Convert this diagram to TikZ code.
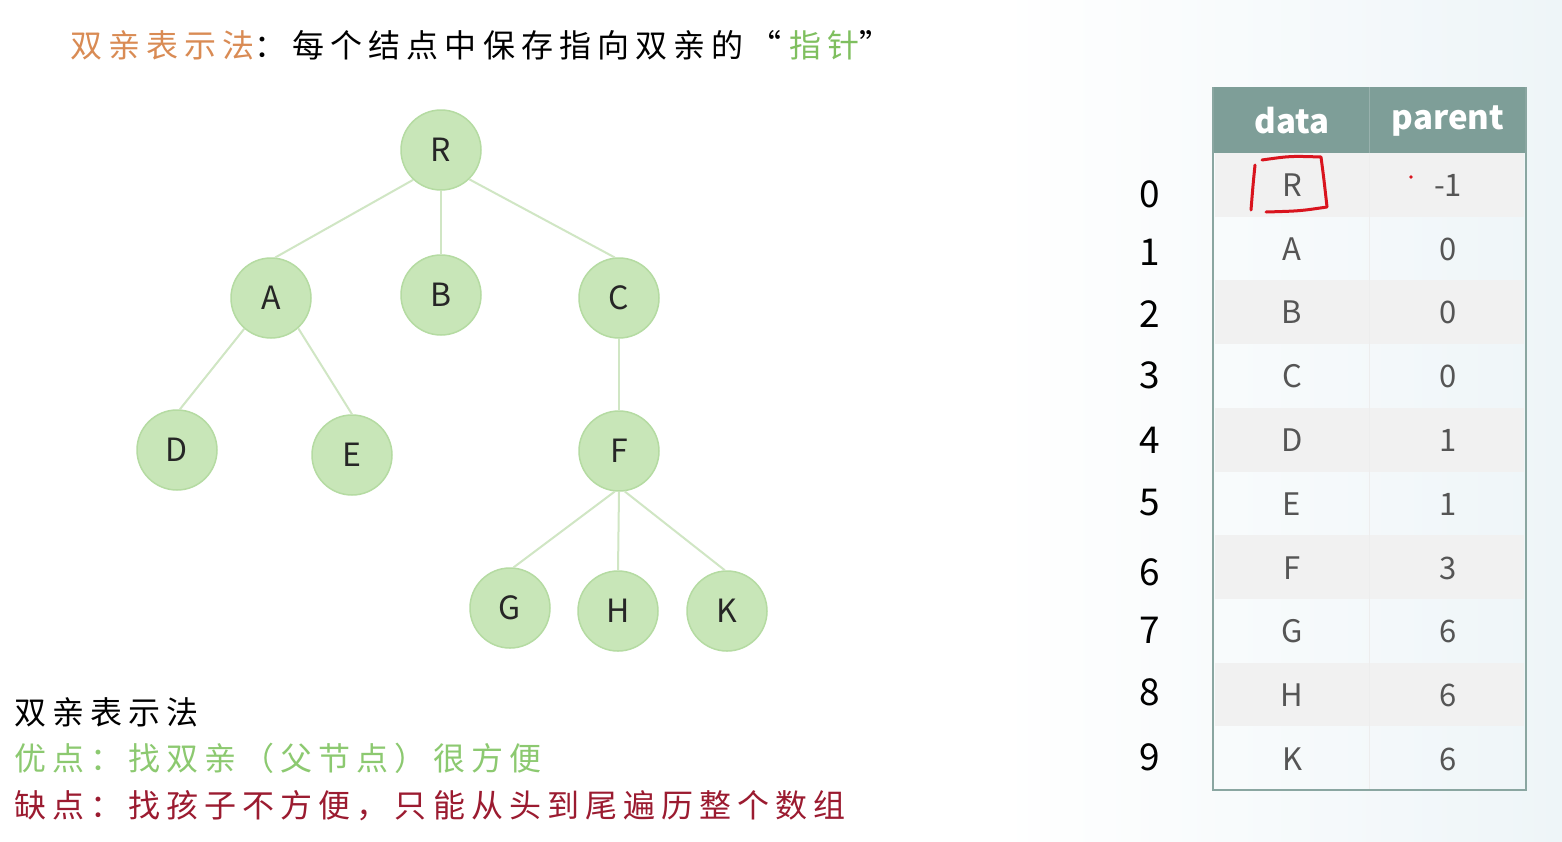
\documentclass[tikz,border=0pt]{standalone}
\usepackage{fontspec}
\setmainfont{Noto Sans CJK SC}
\newfontfamily\cjkfont[LetterSpace=19]{Noto Sans CJK SC}
\definecolor{ttlorange}{HTML}{D98B54}
\definecolor{ptrgreen}{HTML}{7FBF5F}
\definecolor{okgreen}{HTML}{8CC970}
\definecolor{badred}{HTML}{9B1B30}
\definecolor{nodefill}{HTML}{C8E6B8}
\definecolor{nodeline}{HTML}{B5DBA2}
\definecolor{edgecol}{HTML}{D0E6C4}
\definecolor{headcol}{HTML}{7E9E98}
\definecolor{tblline}{HTML}{8AA6A1}
\definecolor{rowgray}{HTML}{F1F1F1}
\definecolor{celltext}{HTML}{555555}
\definecolor{penred}{HTML}{D9141E}
\definecolor{bgblue}{HTML}{EEF5F8}
\tikzset{
  tn/.style={circle, minimum size=80pt, inner sep=0pt, fill=nodefill, draw=nodeline, line width=1.5pt,
    font=\fontsize{32}{36}\selectfont, text=black!85},
  te/.style={draw=edgecol, line width=2pt},
  cell/.style={inner sep=0pt, font=\fontsize{31}{34}\selectfont, text=celltext},
  hdr/.style={inner sep=0pt, font=\fontsize{33}{36}\selectfont\bfseries, text=white},
  idx/.style={inner sep=0pt, font=\fontsize{37}{40}\selectfont, text=black},
  cjktext/.style={inner sep=0pt, anchor=west, font=\cjkfont\fontsize{32}{36}\selectfont},
}
\begin{document}
\begin{tikzpicture}[x=1pt,y=-1pt]
\useasboundingbox (0,0) rectangle (1562,841);
\fill[white] (0,0) rectangle (1562,841);
\shade[left color=white, right color=bgblue] (1000,0) rectangle (1562,841);

% title
\node[cjktext] (title) at (70,45) {\textcolor{ttlorange}{双亲表示法}：每个结点中保存指向双亲的\hspace{6pt}“\hspace{8pt}\textcolor{ptrgreen}{指针}”};

% tree
\node[tn] (R) at (441,150) {R};
\node[tn] (A) at (271,298) {A};
\node[tn] (B) at (441,295) {B};
\node[tn] (C) at (619,298) {C};
\node[tn] (D) at (177,450) {D};
\node[tn] (E) at (352,455) {E};
\node[tn] (F) at (619,451) {F};
\node[tn] (G) at (510,608) {G};
\node[tn] (H) at (618,611) {H};
\node[tn] (K) at (727,611) {K};
\draw[te] (R.227) -- (A.84);
\draw[te] (R.south) -- (B.north);
\draw[te] (R.314) -- (C.96);
\draw[te] (A.229) -- (D.86);
\draw[te] (A.312) -- (E.north);
\draw[te] (C.south) -- (F.north);
\draw[te] (F.264) -- (G.85);
\draw[te] (F.south) -- (H.north);
\draw[te] (F.278) -- (K.93);

% bottom text
\node[cjktext] (t1) at (14,712) {双亲表示法};
\node[cjktext, text=okgreen] (t2) at (14,758) {优点：找双亲（父节点）很方便};
\node[cjktext, text=badred] (t3) at (14,806) {缺点：找孩子不方便，只能从头到尾遍历整个数组};

% table
\fill[headcol] (1213,87) rectangle (1526,153);
\foreach \i in {0,2,4,6,8} {
  \fill[rowgray] (1215,{153+\i*63.7}) rectangle (1524,{153+(\i+1)*63.7});
}
\draw[white!93!black, line width=0.6pt] (1369,153) -- (1369,790);
\draw[headcol!80!white, line width=0.6pt] (1369,87) -- (1369,153);
\draw[tblline, line width=2.5pt] (1213,87) -- (1213,790) -- (1526,790) -- (1526,87);
\node[hdr] (hdata) at (1292,121) {data};
\node[hdr] (hpar) at (1448,121) {parent};

\foreach \i/\d/\p/\y in {0/R/-1/185, 1/A/0/249, 2/B/0/312, 3/C/0/376, 4/D/1/440, 5/E/1/504, 6/F/3/568, 7/G/6/631, 8/H/6/695, 9/K/6/759} {
  \node[cell] (d\i) at (1292,\y) {\d};
  \node[cell] (p\i) at (1448,\y) {\p};
}
\foreach \i/\y in {0/194, 1/252, 2/314, 3/375, 4/440, 5/503, 6/572, 7/630, 8/692, 9/757} {
  \node[idx] (n\i) at (1150,\y) {\i};
}

% red hand-drawn box
\draw[penred, line width=3pt, line cap=round, line join=round]
  (1255,165) .. controls (1253,185) .. (1251,210);
\draw[penred, line width=3pt, line cap=round, line join=round]
  (1262,160) .. controls (1290,156) .. (1321,157)
  .. controls (1324,180) .. (1327,207)
  .. controls (1300,211) .. (1266,212);
\fill[penred] (1411,177) circle (1.8);
\end{tikzpicture}
\end{document}
